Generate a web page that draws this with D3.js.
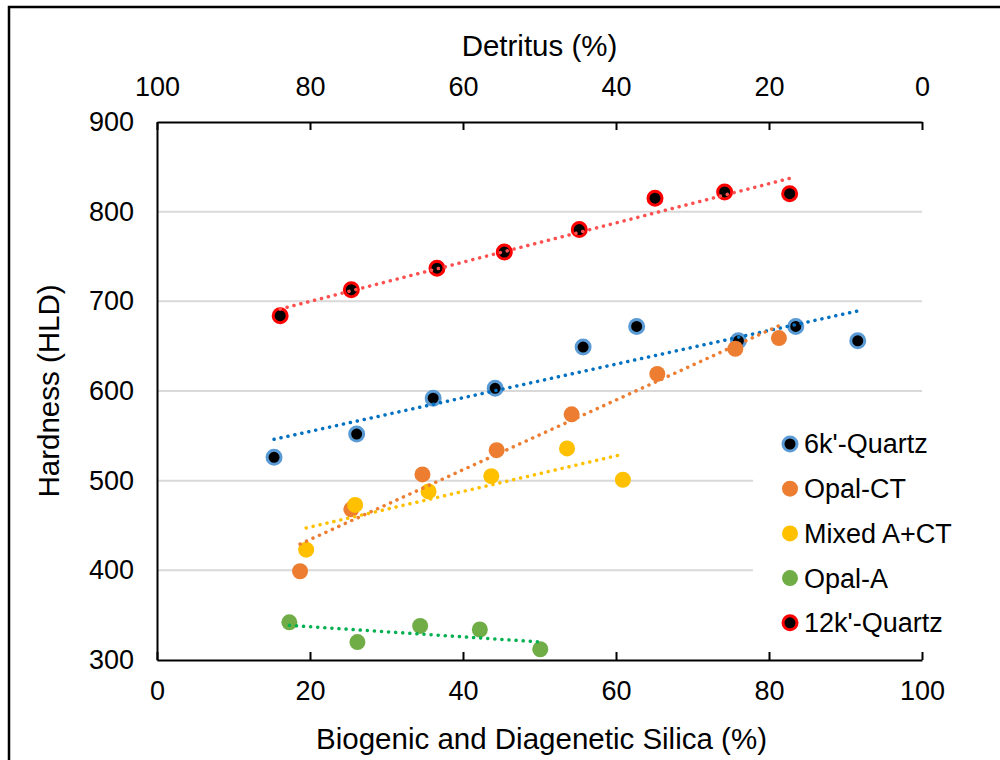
<!DOCTYPE html>
<html>
  <head>
    <meta charset="utf-8">
    <title>Hardness vs silica</title>
    <script src="https://cdnjs.cloudflare.com/ajax/libs/d3/7.8.5/d3.min.js"></script>
    <style>
      body { margin: 0; background: #fff; }
      svg text { font-family: "Liberation Sans", Arial, sans-serif; fill: #000; }
      .axis text { font-size: 27px; }
      .axis path, .axis line { stroke: #000; stroke-width: 2; }
      .title { font-size: 29.5px; }
      .grid line { stroke: #d9d9d9; stroke-width: 2; }
      .trend { fill: none; stroke-width: 3.5; stroke-linecap: round; stroke-dasharray: 0.1 7; }
      .legend text { font-size: 27px; }
    </style>
  </head>
  <body>
    <svg id="chart" width="1000" height="760"></svg>
    <script>
      // chart data (silica %, hardness HLD)
      var seriesNames = ["6k'-Quartz", "Opal-CT", "Mixed A+CT", "Opal-A", "12k'-Quartz"];
      var quartz6kSilica = [15.3, 26.1, 36.1, 44.2, 55.7, 62.7, 76.0, 83.5, 91.6];
      var quartz6kHardness = [526, 552, 592, 603, 649, 672, 656, 672, 656];
      var opalCTSilica = [18.7, 25.4, 34.7, 44.4, 54.2, 65.4, 75.6, 81.3];
      var opalCTHardness = [399, 468, 507, 534, 574, 619, 647, 659];
      var mixedSilica = [19.5, 25.9, 35.5, 43.7, 53.6, 60.9];
      var mixedHardness = [423, 473, 488, 505, 536, 501];
      var opalASilica = [17.3, 26.2, 34.4, 42.2, 50.1];
      var opalAHardness = [342, 320, 338, 334, 312];
      var quartz12kSilica = [16.1, 25.4, 36.6, 45.4, 55.2, 65.1, 74.2, 82.7];
      var quartz12kHardness = [684, 713, 737, 755, 780, 815, 822, 820];
      var xTicks = [0, 20, 40, 60, 80, 100];
      var xTopTicks = [100, 80, 60, 40, 20, 0];
      var yTicks = [300, 400, 500, 600, 700, 800, 900];
      var gridTicks = [400, 500, 600, 700, 800];

      // look of each series
      var styles = [
        { fill: "#000", stroke: "#5b9bd5", trend: "#0070c0" },
        { fill: "#ed7d31", stroke: "none", trend: "#ed7d31" },
        { fill: "#ffc000", stroke: "none", trend: "#ffc000" },
        { fill: "#70ad47", stroke: "none", trend: "#00b050" },
        { fill: "#000", stroke: "#ff0000", trend: "#ff5050" }
      ];
      var silica = [quartz6kSilica, opalCTSilica, mixedSilica, opalASilica, quartz12kSilica];
      var hardness = [quartz6kHardness, opalCTHardness, mixedHardness, opalAHardness, quartz12kHardness];
      var series = seriesNames.map(function(name, i) {
        return {
          name: name,
          style: styles[i],
          points: silica[i].map(function(s, j) { return { x: s, y: hardness[i][j] }; })
        };
      });

      // set up
      var chart = d3.select("#chart");
      var x = d3.scaleLinear().domain([0, 100]).range([157, 922]);
      var xTop = d3.scaleLinear().domain([100, 0]).range([157, 922]);
      var y = d3.scaleLinear().domain([300, 900]).range([660, 122]);

      // frame
      chart.append("rect")
        .attr("x", 9).attr("y", 7)
        .attr("width", 1100).attr("height", 900)
        .attr("fill", "none")
        .attr("stroke", "#000")
        .attr("stroke-width", 2.5);

      // gridlines
      chart.append("g")
        .classed("grid", true)
        .selectAll("line")
          .data(gridTicks)
        .enter().append("line")
          .attr("x1", x(0)).attr("x2", x(100))
          .attr("y1", function(d) { return y(d); })
          .attr("y2", function(d) { return y(d); });

      // axes
      chart.append("g")
        .classed("axis", true)
        .attr("transform", "translate(0," + y(300) + ")")
        .call(d3.axisBottom(x).tickValues(xTicks).tickSizeInner(-8).tickSizeOuter(0).tickPadding(21));
      chart.append("g")
        .classed("axis", true)
        .attr("transform", "translate(0," + y(900) + ")")
        .call(d3.axisTop(xTop).tickValues(xTopTicks).tickSizeInner(-8).tickSizeOuter(0).tickPadding(26));
      chart.append("g")
        .classed("axis", true)
        .attr("transform", "translate(" + x(0) + ",0)")
        .call(d3.axisLeft(y).tickValues(yTicks).tickSize(0).tickPadding(23));

      // axis titles
      chart.append("text")
        .classed("title", true)
        .attr("x", (x(0) + x(100)) / 2 + 2).attr("y", 749)
        .attr("text-anchor", "middle")
        .text("Biogenic and Diagenetic Silica (%)");
      chart.append("text")
        .classed("title", true)
        .attr("x", (x(0) + x(100)) / 2).attr("y", 56)
        .attr("text-anchor", "middle")
        .text("Detritus (%)");
      chart.append("text")
        .classed("title", true)
        .attr("transform", "translate(59," + y(600) + ") rotate(-90)")
        .attr("text-anchor", "middle")
        .text("Hardness (HLD)");

      // linear trendlines
      function fit(points) {
        var mx = d3.mean(points, function(p) { return p.x; });
        var my = d3.mean(points, function(p) { return p.y; });
        var sxy = d3.sum(points, function(p) { return (p.x - mx) * (p.y - my); });
        var sxx = d3.sum(points, function(p) { return (p.x - mx) * (p.x - mx); });
        var b = sxy / sxx;
        var ext = d3.extent(points, function(p) { return p.x; });
        return ext.map(function(v) { return { x: v, y: my + b * (v - mx) }; });
      }
      var line = d3.line()
        .x(function(d) { return x(d.x); })
        .y(function(d) { return y(d.y); });

      // points
      series.forEach(function(s) {
        chart.append("g")
          .selectAll("circle")
            .data(s.points)
          .enter().append("circle")
            .attr("cx", function(d) { return x(d.x); })
            .attr("cy", function(d) { return y(d.y); })
            .attr("r", s.style.stroke == "none" ? 8 : 7)
            .attr("fill", s.style.fill)
            .attr("stroke", s.style.stroke)
            .attr("stroke-width", 3);
      });
      series.forEach(function(s) {
        chart.append("path")
          .classed("trend", true)
          .attr("d", line(fit(s.points)))
          .attr("stroke", s.style.trend);
      });

      // legend
      var legend = chart.append("g").classed("legend", true);
      legend.append("rect")
        .attr("x", 753).attr("y", 415)
        .attr("width", 172).attr("height", 235)
        .attr("fill", "#fff");
      var items = legend.selectAll(".item")
          .data(series)
        .enter().append("g")
          .classed("item", true)
          .attr("transform", function(d, i) { return "translate(790," + (444 + i * 44.7) + ")"; });
      items.append("circle")
        .attr("r", function(d) { return d.style.stroke == "none" ? 8 : 7; })
        .attr("fill", function(d) { return d.style.fill; })
        .attr("stroke", function(d) { return d.style.stroke; })
        .attr("stroke-width", 3);
      items.append("text")
        .attr("x", 14)
        .attr("dy", "0.35em")
        .text(function(d) { return d.name; });
    </script>
  </body>
</html>
